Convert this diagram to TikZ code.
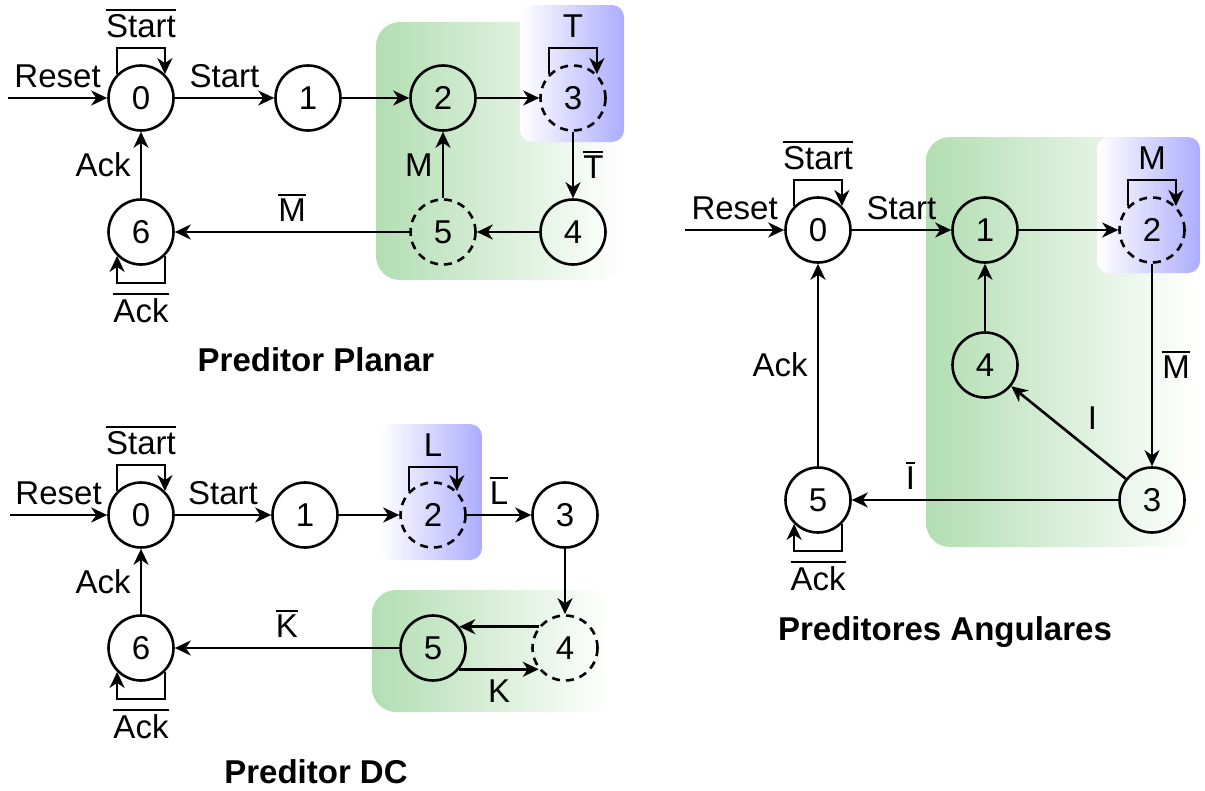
\documentclass[tikz,border=0pt]{standalone}
\usepackage{fontspec}
\setmainfont{Liberation Sans}
\usetikzlibrary{arrows.meta, calc}
\definecolor{zonegreen}{RGB}{178,222,178}
\definecolor{zoneblue}{RGB}{172,172,255}
\newcommand{\ovl}[1]{\leavevmode\vbox{\hrule height 2.2pt\kern 3pt\hbox{#1}}}

\begin{document}
\begin{tikzpicture}[x=1pt, y=-1pt, line width=2.6pt,
    >={Stealth[length=16pt,width=15pt,inset=5pt]},
    font=\fontsize{33}{38}\selectfont,
    every node/.style={inner sep=9pt},
    stnode/.style={circle, draw, minimum size=65pt, inner sep=0pt},
    ghost/.style={stnode, dash pattern=on 8pt off 6pt},
    greenzone/.style={left color=zonegreen, right color=white, rounded corners=24pt},
    bluezone/.style={left color=white, right color=zoneblue, rounded corners=12pt},
    title/.style={font=\fontsize{33}{38}\selectfont\bfseries}]
  \useasboundingbox (0,0) rectangle (1205,790);

  % Preditor Planar
  \shade[greenzone] (376,22) rectangle (623,280);
  \shade[bluezone] (520,5) rectangle (624,142);
  \node[stnode] (p0) at (141,98) {0};
  \node[stnode] (p1) at (308,98) {1};
  \node[stnode] (p2) at (443,98) {2};
  \node[ghost]  (p3) at (573,98) {3};
  \node[stnode] (p4) at (573,232) {4};
  \node[ghost]  (p5) at (443,232) {5};
  \node[stnode] (p6) at (141,232) {6};
  \coordinate (pin) at (8,98);
  \draw[->] (pin) -- node[above] {Reset} (p0);
  \draw[->] (p0) -- node[above] {Start} (p1);
  \draw[->] (p1) -- (p2);
  \draw[->] (p2) -- (p3);
  \draw[->] (p3) -- node[right] {\ovl{T}} (p4);
  \draw[->] (p4) -- (p5);
  \draw[->] (p5) -- node[left] {M} (p2);
  \draw[->] (p5) -- node[above] {\ovl{M}} (p6);
  \draw[->] (p6) -- node[left] {Ack} (p0);
  \draw[->] (p0.135) -- ++(0,-26) -| node[pos=0.25, above] {\ovl{Start}} (p0.45);
  \draw[->] (p3.135) -- ++(0,-26) -| node[pos=0.25, above] {T} (p3.45);
  \draw[->] (p6.-45) -- ++(0,27) -| node[pos=0.25, below] {\ovl{Ack}} (p6.-135);
  \node[title] (tp) at (316,360) {Preditor Planar};

  % Preditor DC
  \shade[bluezone] (380,424) rectangle (482,560);
  \shade[greenzone] (372,590) rectangle (612,712);
  \node[stnode] (d0) at (141,515) {0};
  \node[stnode] (d1) at (305,515) {1};
  \node[ghost]  (d2) at (433,515) {2};
  \node[stnode] (d3) at (565,515) {3};
  \node[ghost]  (d4) at (565,648) {4};
  \node[stnode] (d5) at (433,648) {5};
  \node[stnode] (d6) at (141,648) {6};
  \coordinate (din) at (10,515);
  \draw[->] (din) -- node[above] {Reset} (d0);
  \draw[->] (d0) -- node[above] {Start} (d1);
  \draw[->] (d1) -- (d2);
  \draw[->] (d2) -- node[above] {\ovl{L}} (d3);
  \draw[->] (d3) -- (d4);
  \draw[->] (d4.141) -- (d5.39);
  \draw[->] (d5.-39) -- node[below] {K} (d4.-141);
  \draw[->] (d5) -- node[above] {\ovl{K}} (d6);
  \draw[->] (d6) -- node[left] {Ack} (d0);
  \draw[->] (d0.135) -- ++(0,-26) -| node[pos=0.25, above] {\ovl{Start}} (d0.45);
  \draw[->] (d2.135) -- ++(0,-24) -| node[pos=0.25, above] {L} (d2.45);
  \draw[->] (d6.-45) -- ++(0,27) -| node[pos=0.25, below] {\ovl{Ack}} (d6.-135);
  \node[title] (td) at (316,772) {Preditor DC};

  % Preditores Angulares
  \shade[greenzone] (926,137) rectangle (1197,547);
  \shade[bluezone] (1097,137) rectangle (1200,273);
  \node[stnode] (a0) at (818,230) {0};
  \node[stnode] (a1) at (985,230) {1};
  \node[ghost]  (a2) at (1152,230) {2};
  \node[stnode] (a3) at (1152,500) {3};
  \node[stnode] (a4) at (985,365) {4};
  \node[stnode] (a5) at (818,500) {5};
  \coordinate (ain) at (685,230);
  \draw[->] (ain) -- node[above] {Reset} (a0);
  \draw[->] (a0) -- node[above] {Start} (a1);
  \draw[->] (a1) -- (a2);
  \draw[->] (a2) -- node[right] {\ovl{M}} (a3);
  \draw[->] (a3) -- node[pos=0.42, above right] {I} (a4);
  \draw[->] (a4) -- (a1);
  \draw[->] (a3) -- node[pos=0.78, above] {\ovl{I}} (a5);
  \draw[->] (a5) -- node[left] {Ack} (a0);
  \draw[->] (a0.135) -- ++(0,-26) -| node[pos=0.25, above] {\ovl{Start}} (a0.45);
  \draw[->] (a2.135) -- ++(0,-26) -| node[pos=0.25, above] {M} (a2.45);
  \draw[->] (a5.-45) -- ++(0,27) -| node[pos=0.25, below] {\ovl{Ack}} (a5.-135);
  \node[title] (ta) at (945,632) {Preditores Angulares};
\end{tikzpicture}
\end{document}
